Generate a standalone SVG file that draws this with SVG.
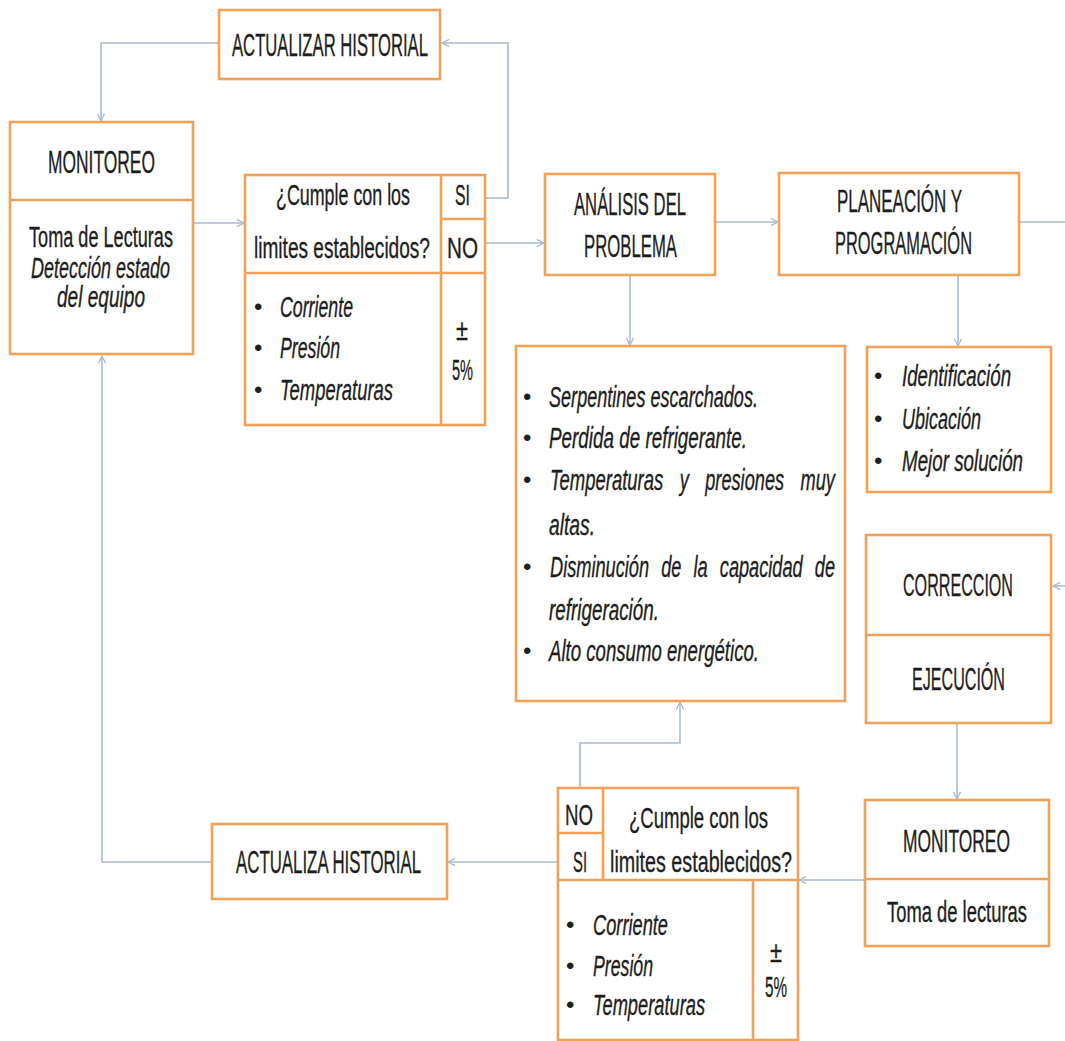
<svg xmlns="http://www.w3.org/2000/svg" width="1065" height="1041" viewBox="0 0 1065 1041">
<style>
.box{fill:#ffffff;stroke:#F2A05A;stroke-width:2.6}
.dv{fill:none;stroke:#F2A05A;stroke-width:2.6}
.ln{fill:none;stroke:#A9BBD2;stroke-width:1.6}
.t{font-family:"Liberation Sans",Arial,sans-serif;fill:#1e1e1e;stroke:#1e1e1e;stroke-width:0.35;font-size:30px}
.u{font-size:31px}
.i{font-style:italic;font-size:29px}
.b{font-family:"Liberation Sans",Arial,sans-serif;fill:#1e1e1e;font-size:24px}
</style>
<defs>
<marker id="ah" viewBox="0 0 10 10" refX="9" refY="5" markerWidth="9" markerHeight="9" markerUnits="userSpaceOnUse" orient="auto">
<path d="M1,1 L9,5 L1,9" fill="none" stroke="#A9BBD2" stroke-width="1.4"/>
</marker>
</defs>
<rect width="1065" height="1041" fill="#ffffff"/>

<g id="connectors">
<path class="ln" d="M219,43 H101 V121" marker-end="url(#ah)"/>
<path class="ln" d="M486,198 H508 V43 H442" marker-end="url(#ah)"/>
<path class="ln" d="M193,223 H244" marker-end="url(#ah)"/>
<path class="ln" d="M486,243 H544" marker-end="url(#ah)"/>
<path class="ln" d="M715,222 H778" marker-end="url(#ah)"/>
<path class="ln" d="M630,275 V345" marker-end="url(#ah)"/>
<path class="ln" d="M958,275 V346" marker-end="url(#ah)"/>
<path class="ln" d="M1019,222 H1085 V586 H1053" marker-end="url(#ah)"/>
<path class="ln" d="M957,723 V799" marker-end="url(#ah)"/>
<path class="ln" d="M865,880 H799" marker-end="url(#ah)"/>
<path class="ln" d="M580,788 V743 H680 V702" marker-end="url(#ah)"/>
<path class="ln" d="M558,862 H448" marker-end="url(#ah)"/>
<path class="ln" d="M212,862 H102 V356" marker-end="url(#ah)"/>
</g>

<g id="actualizar-historial">
<rect class="box" x="219" y="10" width="221" height="69"/>
<text class="t u" transform="matrix(0.5 0 0 1 232 56)" textLength="392" lengthAdjust="spacingAndGlyphs">ACTUALIZAR HISTORIAL</text>
</g>

<g id="monitoreo">
<rect class="box" x="10" y="122" width="183" height="232"/>
<line class="dv" x1="10" y1="200" x2="193" y2="200"/>
<text class="t u" transform="matrix(0.5 0 0 1 48 173)" textLength="214" lengthAdjust="spacingAndGlyphs">MONITOREO</text>
<text class="t" transform="matrix(0.6 0 0 1 29 247)" textLength="240" lengthAdjust="spacingAndGlyphs">Toma de Lecturas</text>
<text class="t" font-style="italic" transform="matrix(0.6 0 0 1 31 278)" textLength="231.7" lengthAdjust="spacingAndGlyphs">Detección estado</text>
<text class="t" font-style="italic" transform="matrix(0.6 0 0 1 57 307)" textLength="146.7" lengthAdjust="spacingAndGlyphs">del equipo</text>
</g>

<g id="decision-1">
<rect class="box" x="245" y="175" width="240" height="250"/>
<line class="dv" x1="441" y1="175" x2="441" y2="425"/>
<line class="dv" x1="441" y1="219" x2="485" y2="219"/>
<line class="dv" x1="245" y1="273" x2="485" y2="273"/>
<text class="t" transform="matrix(0.6 0 0 1 276 205)" textLength="223.3" lengthAdjust="spacingAndGlyphs">¿Cumple con los</text>
<text class="t" transform="matrix(0.6 0 0 1 254 258)" textLength="293.3" lengthAdjust="spacingAndGlyphs">limites establecidos?</text>
<text class="t" transform="matrix(0.5 0 0 1 455 205)" textLength="30" lengthAdjust="spacingAndGlyphs">SI</text>
<text class="t" transform="matrix(0.5 0 0 1 447 258)" textLength="62" lengthAdjust="spacingAndGlyphs">NO</text>
<text class="b" x="254" y="315">•</text>
<text class="b" x="254" y="356">•</text>
<text class="b" x="254" y="398">•</text>
<text class="t i" transform="matrix(0.6 0 0 1 280 317)" textLength="121.7" lengthAdjust="spacingAndGlyphs">Corriente</text>
<text class="t i" transform="matrix(0.6 0 0 1 280 358)" textLength="100" lengthAdjust="spacingAndGlyphs">Presión</text>
<text class="t i" transform="matrix(0.6 0 0 1 280 400)" textLength="188.3" lengthAdjust="spacingAndGlyphs">Temperaturas</text>
<text class="t" transform="matrix(0.6 0 0 1 456 340)" textLength="20" lengthAdjust="spacingAndGlyphs">±</text>
<text class="t" transform="matrix(0.6 0 0 1 452 380)" textLength="35" lengthAdjust="spacingAndGlyphs">5%</text>
</g>

<g id="analisis">
<rect class="box" x="545" y="174" width="170" height="101"/>
<text class="t u" transform="matrix(0.5 0 0 1 574 215)" textLength="224" lengthAdjust="spacingAndGlyphs">ANÁLISIS DEL</text>
<text class="t u" transform="matrix(0.5 0 0 1 584 257)" textLength="186" lengthAdjust="spacingAndGlyphs">PROBLEMA</text>
</g>

<g id="planeacion">
<rect class="box" x="779" y="173" width="240" height="102"/>
<text class="t u" transform="matrix(0.5 0 0 1 837 212)" textLength="250" lengthAdjust="spacingAndGlyphs">PLANEACIÓN Y</text>
<text class="t u" transform="matrix(0.5 0 0 1 835 254)" textLength="274" lengthAdjust="spacingAndGlyphs">PROGRAMACIÓN</text>
</g>

<g id="problemas">
<rect class="box" x="516" y="346" width="329" height="355"/>
<text class="b" x="523" y="405">•</text>
<text class="b" x="523" y="446">•</text>
<text class="b" x="523" y="488">•</text>
<text class="b" x="523" y="575">•</text>
<text class="b" x="523" y="659">•</text>
<text class="t i" transform="matrix(0.6 0 0 1 549 407)" textLength="348.3" lengthAdjust="spacingAndGlyphs">Serpentines escarchados.</text>
<text class="t i" transform="matrix(0.6 0 0 1 549 448)" textLength="330" lengthAdjust="spacingAndGlyphs">Perdida de refrigerante.</text>
<text class="t i" transform="matrix(0.6 0 0 1 550 490)" textLength="188.8" lengthAdjust="spacingAndGlyphs">Temperaturas</text>
<text class="t i" transform="matrix(0.6 0 0 1 679.7 490)" textLength="15.2" lengthAdjust="spacingAndGlyphs">y</text>
<text class="t i" transform="matrix(0.6 0 0 1 705.2 490)" textLength="131.5" lengthAdjust="spacingAndGlyphs">presiones</text>
<text class="t i" transform="matrix(0.6 0 0 1 800.5 490)" textLength="57.3" lengthAdjust="spacingAndGlyphs">muy</text>
<text class="t i" transform="matrix(0.6 0 0 1 549 535)" textLength="76.7" lengthAdjust="spacingAndGlyphs">altas.</text>
<text class="t i" transform="matrix(0.6 0 0 1 550 577)" textLength="165.2" lengthAdjust="spacingAndGlyphs">Disminución</text>
<text class="t i" transform="matrix(0.6 0 0 1 661.2 577)" textLength="33.7" lengthAdjust="spacingAndGlyphs">de</text>
<text class="t i" transform="matrix(0.6 0 0 1 693.5 577)" textLength="23.7" lengthAdjust="spacingAndGlyphs">la</text>
<text class="t i" transform="matrix(0.6 0 0 1 719.8 577)" textLength="138.2" lengthAdjust="spacingAndGlyphs">capacidad</text>
<text class="t i" transform="matrix(0.6 0 0 1 814.8 577)" textLength="33.7" lengthAdjust="spacingAndGlyphs">de</text>
<text class="t i" transform="matrix(0.6 0 0 1 549 620)" textLength="183.3" lengthAdjust="spacingAndGlyphs">refrigeración.</text>
<text class="t i" transform="matrix(0.6 0 0 1 549 661)" textLength="350" lengthAdjust="spacingAndGlyphs">Alto consumo energético.</text>
</g>

<g id="identificacion">
<rect class="box" x="867" y="347" width="184" height="145"/>
<text class="b" x="874" y="384">•</text>
<text class="b" x="874" y="427">•</text>
<text class="b" x="874" y="469">•</text>
<text class="t i" transform="matrix(0.6 0 0 1 902 386)" textLength="181.7" lengthAdjust="spacingAndGlyphs">Identificación</text>
<text class="t i" transform="matrix(0.6 0 0 1 902 429)" textLength="131.7" lengthAdjust="spacingAndGlyphs">Ubicación</text>
<text class="t i" transform="matrix(0.6 0 0 1 902 471)" textLength="201.7" lengthAdjust="spacingAndGlyphs">Mejor solución</text>
</g>

<g id="correccion-ejecucion">
<rect class="box" x="866" y="535" width="185" height="188"/>
<line class="dv" x1="866" y1="635" x2="1051" y2="635"/>
<text class="t u" transform="matrix(0.5 0 0 1 903 596)" textLength="220" lengthAdjust="spacingAndGlyphs">CORRECCION</text>
<text class="t u" transform="matrix(0.5 0 0 1 912 690)" textLength="186" lengthAdjust="spacingAndGlyphs">EJECUCIÓN</text>
</g>

<g id="monitoreo-2">
<rect class="box" x="865" y="800" width="184" height="146"/>
<line class="dv" x1="865" y1="879" x2="1049" y2="879"/>
<text class="t u" transform="matrix(0.5 0 0 1 903 852)" textLength="214" lengthAdjust="spacingAndGlyphs">MONITOREO</text>
<text class="t" transform="matrix(0.6 0 0 1 887 922)" textLength="233.3" lengthAdjust="spacingAndGlyphs">Toma de lecturas</text>
</g>

<g id="decision-2">
<rect class="box" x="558" y="788" width="240" height="252"/>
<line class="dv" x1="603" y1="788" x2="603" y2="880"/>
<line class="dv" x1="558" y1="833" x2="603" y2="833"/>
<line class="dv" x1="558" y1="880" x2="798" y2="880"/>
<line class="dv" x1="753" y1="880" x2="753" y2="1040"/>
<text class="t" transform="matrix(0.5 0 0 1 565 825)" textLength="56" lengthAdjust="spacingAndGlyphs">NO</text>
<text class="t" transform="matrix(0.5 0 0 1 573 872)" textLength="28" lengthAdjust="spacingAndGlyphs">SI</text>
<text class="t" transform="matrix(0.6 0 0 1 629 828)" textLength="231.7" lengthAdjust="spacingAndGlyphs">¿Cumple con los</text>
<text class="t" transform="matrix(0.6 0 0 1 610 872)" textLength="303.3" lengthAdjust="spacingAndGlyphs">limites establecidos?</text>
<text class="b" x="566" y="933">•</text>
<text class="b" x="566" y="974">•</text>
<text class="b" x="566" y="1013">•</text>
<text class="t i" transform="matrix(0.6 0 0 1 593 935)" textLength="125" lengthAdjust="spacingAndGlyphs">Corriente</text>
<text class="t i" transform="matrix(0.6 0 0 1 593 976)" textLength="100" lengthAdjust="spacingAndGlyphs">Presión</text>
<text class="t i" transform="matrix(0.6 0 0 1 593 1015)" textLength="186.7" lengthAdjust="spacingAndGlyphs">Temperaturas</text>
<text class="t" transform="matrix(0.6 0 0 1 770 962)" textLength="20" lengthAdjust="spacingAndGlyphs">±</text>
<text class="t" transform="matrix(0.6 0 0 1 765 997)" textLength="36.7" lengthAdjust="spacingAndGlyphs">5%</text>
</g>

<g id="actualiza-historial">
<rect class="box" x="212" y="824" width="235" height="75"/>
<text class="t u" transform="matrix(0.5 0 0 1 236 873)" textLength="370" lengthAdjust="spacingAndGlyphs">ACTUALIZA HISTORIAL</text>
</g>
</svg>
